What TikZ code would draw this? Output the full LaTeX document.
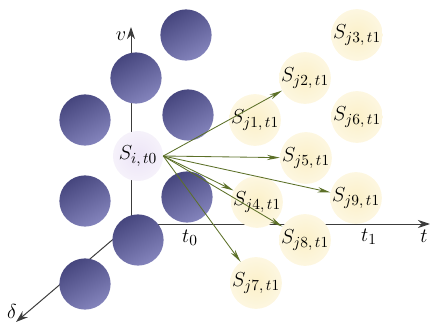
\documentclass[tikz,border=0pt]{standalone}
\usepackage{amsmath}
\usetikzlibrary{arrows.meta,positioning}
\definecolor{balldark}{RGB}{70,70,126}
\definecolor{balllight}{RGB}{132,132,188}
\definecolor{sjfill}{RGB}{251,240,200}
\definecolor{sifill}{RGB}{236,228,246}
\definecolor{flowgreen}{RGB}{92,112,40}
\definecolor{axisgray}{RGB}{60,60,60}

\begin{document}
\begin{tikzpicture}[x=0.025cm, y=-0.025cm,
    ball/.style={circle, minimum size=1.28cm, inner sep=0pt, top color=balldark, bottom color=balllight, shading angle=30},
    state/.style={circle, minimum size=1.25cm, inner sep=0pt, inner color=sjfill, outer color=sjfill!55, font=\fontsize{15}{18}\selectfont},
    source/.style={state, inner color=sifill, outer color=sifill!50},
    axis/.style={-{Stealth[length=3mm, width=2mm]}, axisgray, line width=0.7pt},
    flow/.style={-{Stealth[length=3.2mm, width=1.3mm]}, flowgreen, line width=0.6pt},
    label/.style={font=\fontsize{15}{18}\selectfont, inner sep=1pt}
]
\useasboundingbox (0,0) rectangle (430,329);

% Axes (behind everything)
\coordinate (origin) at (131,224);
\coordinate (vtip) at (131,27);
\coordinate (ttip) at (430,224);
\coordinate (dtip) at (16,322);
\draw[axis] (origin) -- (vtip);
\draw[axis] (origin) -- (ttip);
\draw[axis] (origin) -- (dtip);
\node[label] (vlab) at (121,36) {$v$};
\node[label] (tlab) at (424,236) {$t$};
\node[label] (dlab) at (12,311) {$\delta$};
\node[label] (t0lab) at (190,238) {$t_0$};
\node[label] (t1lab) at (369,237) {$t_1$};

% Neighbourhood at time t0
\node[ball] (b1) at (186,35) {};
\node[ball] (b2) at (136,78) {};
\node[ball] (b3) at (85,120) {};
\node[ball] (b4) at (188,115) {};
\node[source] (si) at (138,156) {$S_{i,\,t0}$};
\node[ball] (b6) at (85,201) {};
\node[ball] (b7) at (187,197) {};
\node[ball] (b8) at (138,240) {};
\node[ball] (b9) at (85,284) {};

% Candidate states at time t1
\node[state] (sj3) at (357,35) {$S_{j3,\,t1}$};
\node[state] (sj2) at (305,78) {$S_{j2,\,t1}$};
\node[state] (sj1) at (255,120) {$S_{j1,\,t1}$};
\node[state] (sj6) at (357,117) {$S_{j6,\,t1}$};
\node[state] (sj5) at (306,158) {$S_{j5,\,t1}$};
\node[state] (sj4) at (257,202) {$S_{j4,\,t1}$};
\node[state] (sj9) at (356,198) {$S_{j9,\,t1}$};
\node[state] (sj8) at (305,240) {$S_{j8,\,t1}$};
\node[state] (sj7) at (256,283) {$S_{j7,\,t1}$};

% Transitions
\draw[flow] (si.east) -- (sj2);
\draw[flow] (si.east) -- (sj5);
\draw[flow] (si.east) -- (sj9);
\draw[flow] (si.east) -- (sj4);
\draw[flow] (si.east) -- (sj8);
\draw[flow] (si.east) -- (sj7);

\end{tikzpicture}
\end{document}
